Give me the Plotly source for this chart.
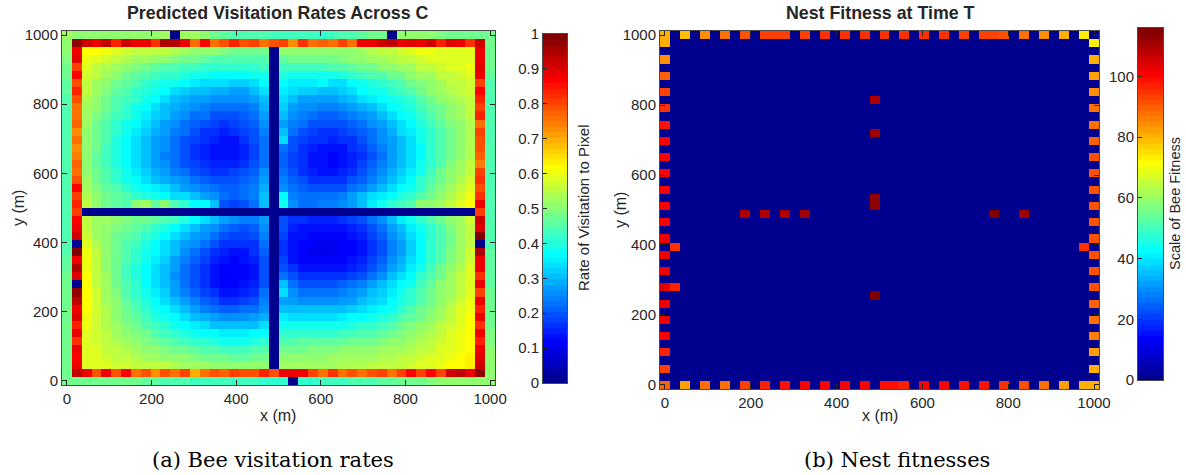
import numpy as np
import plotly.graph_objects as go

# ---------------------------------------------------------------------------
# Data
# ---------------------------------------------------------------------------
N_CELLS = 44                                   # grid cells along each side
grid_m = np.linspace(0, 1000, N_CELLS)         # cell centres in metres
axis_ticks = [0, 200, 400, 600, 800, 1000]

# Predicted visitation rate (percent of pixel visits), rows listed from the
# top of the field (y = 1000 m) down to the bottom (y = 0 m).
visit_pct = [
    [52,51,51,50,50,50,50,50,50,51,52,0,52,52,50,47,46,45,44,44,44,43,43,43,43,43,42,43,44,45,46,47,48,0,50,51,51,50,49,48,48,48,47,48],
    [50,97,92,88,93,83,91,88,88,82,94,94,88,75,86,75,79,83,79,80,76,79,80,73,82,75,78,75,80,75,88,88,92,93,89,90,88,91,83,90,88,82,92,48],
    [50,88,62,62,60,58,57,56,55,55,55,54,53,51,50,50,49,48,48,47,47,0,50,50,50,50,50,50,50,50,52,54,55,56,57,58,60,60,59,58,58,58,88,48],
    [49,90,60,59,57,55,54,53,52,51,50,49,48,47,46,45,45,45,45,45,45,0,46,47,47,47,48,48,49,50,51,52,53,54,55,56,57,58,58,58,58,58,88,48],
    [48,80,58,56,54,52,50,49,48,46,45,44,43,43,42,42,41,41,42,42,43,0,43,43,43,43,43,44,45,46,47,48,50,51,52,53,55,56,57,58,58,60,90,47],
    [47,87,57,55,52,50,48,46,45,43,42,41,40,39,38,37,36,36,37,38,39,0,40,39,38,38,38,39,40,41,43,44,45,47,48,50,52,53,55,56,57,58,88,46],
    [46,79,56,53,50,48,46,44,42,40,39,38,36,35,34,33,33,32,32,33,36,0,37,35,35,35,36,34,34,36,38,40,42,43,45,47,49,51,53,55,56,57,80,45],
    [46,83,55,52,49,46,44,42,40,38,36,34,32,31,30,29,29,28,28,30,33,0,35,33,32,32,31,31,32,34,36,38,39,41,43,45,47,50,52,54,55,57,86,45],
    [45,79,54,51,48,45,43,41,38,36,34,31,29,28,27,26,26,25,25,27,31,0,33,30,28,27,27,28,29,31,33,35,37,38,40,42,45,48,50,52,54,56,83,44],
    [45,75,53,50,47,44,42,39,37,34,31,29,27,25,24,23,22,22,23,24,29,0,32,28,26,25,24,24,25,27,29,31,33,36,38,40,43,46,48,51,53,55,80,44],
    [44,75,52,49,46,43,41,38,35,32,30,27,25,23,22,20,20,20,21,23,27,0,30,26,24,22,21,21,22,24,26,28,30,33,36,38,41,44,47,50,52,55,83,44],
    [44,78,52,48,45,42,39,36,33,30,28,25,23,21,19,18,17,18,19,21,25,0,28,24,22,20,19,19,20,21,23,25,28,31,34,36,40,43,46,49,51,54,75,44],
    [44,73,51,48,45,41,38,35,32,29,27,24,22,19,17,16,15,16,18,20,24,0,30,22,20,18,17,17,18,19,21,23,26,29,33,35,39,42,45,48,51,54,80,44],
    [44,75,50,47,44,40,37,34,31,28,26,23,20,18,16,15,14,14,16,19,23,0,33,20,18,17,16,15,16,17,19,22,25,28,31,34,38,41,45,48,51,54,79,44],
    [44,73,50,47,43,40,37,34,30,27,25,22,19,17,15,14,13,13,15,18,22,0,22,19,17,15,14,13,14,16,18,21,24,27,30,34,37,41,45,48,51,54,79,44],
    [44,74,50,46,43,40,37,34,30,27,24,22,19,17,15,14,13,13,15,18,22,0,21,18,16,14,13,12,13,15,17,20,23,27,30,34,37,41,45,48,51,54,78,44],
    [44,78,50,46,43,40,37,34,31,28,25,22,20,18,16,15,15,15,17,19,23,0,21,18,16,14,13,12,13,15,18,21,24,27,31,34,38,42,45,49,52,55,74,44],
    [44,75,51,47,44,41,38,35,32,29,27,24,22,20,18,17,17,18,19,21,25,0,22,19,17,15,14,14,15,17,19,22,25,29,32,35,39,43,47,50,53,56,80,44],
    [44,79,52,48,45,42,39,37,34,31,29,27,25,23,21,20,20,20,21,23,27,0,24,21,19,17,16,16,17,19,21,24,27,31,34,37,41,44,48,51,54,57,82,44],
    [44,87,53,49,46,44,41,39,37,35,33,31,28,26,24,22,21,21,22,24,29,0,26,23,21,20,19,19,20,22,24,27,30,33,36,39,42,46,49,52,55,58,79,44],
    [44,80,54,51,48,46,44,42,40,38,36,34,33,30,28,25,22,21,22,24,30,0,36,24,22,22,22,22,24,27,30,33,35,37,40,42,45,48,51,54,57,60,82,44],
    [44,83,55,50,47,46,45,50,53,46,50,44,42,37,37,30,20,18,20,22,30,0,38,25,23,23,24,24,25,28,31,35,38,42,43,45,50,50,52,55,58,62,88,45],
    [44,80,0,0,0,0,0,0,0,0,0,0,0,0,0,0,0,0,0,0,0,0,0,0,0,0,0,0,0,0,0,0,0,0,0,0,0,0,0,0,0,0,80,45],
    [44,87,55,53,52,50,49,48,47,46,45,43,40,37,34,30,27,25,24,24,28,0,20,17,16,15,15,15,16,18,20,23,26,30,35,39,42,45,47,50,53,57,92,45],
    [44,88,56,53,51,49,47,46,44,42,40,37,34,31,28,25,23,21,20,21,26,0,20,15,14,13,13,13,14,15,17,20,23,27,31,35,39,42,45,49,52,56,90,45],
    [44,92,57,53,50,48,46,44,42,40,37,34,31,28,25,22,20,18,18,19,24,0,18,14,13,12,11,11,12,13,15,18,21,25,29,33,37,41,45,48,52,56,99,45],
    [45,0,58,54,50,47,45,43,40,37,34,31,28,25,22,19,17,16,16,17,22,0,17,13,12,11,10,10,11,12,14,17,20,24,28,32,36,41,45,48,52,56,0,45],
    [45,100,60,55,51,47,44,42,39,36,33,30,26,23,20,17,15,14,14,16,21,0,17,13,11,10,10,10,11,12,14,17,20,24,28,32,36,41,45,49,52,57,94,46],
    [46,88,60,55,51,47,44,41,38,35,32,28,24,21,18,15,13,12,13,15,20,0,18,14,12,11,11,11,12,13,15,18,21,25,29,33,37,41,45,49,53,57,88,46],
    [46,94,60,55,51,47,43,40,37,34,31,27,23,20,17,14,12,11,12,14,19,0,19,16,14,13,13,13,14,15,17,20,23,27,31,35,39,43,47,50,54,58,89,46],
    [47,90,61,56,52,47,43,40,37,34,30,26,22,19,16,13,12,11,12,14,19,0,22,19,17,16,16,16,17,18,20,23,26,30,34,37,41,45,48,52,55,58,82,46],
    [48,0,62,56,52,48,44,41,37,34,31,27,23,19,16,14,12,12,13,15,20,0,30,22,20,20,19,20,21,22,24,27,30,33,36,39,43,46,50,53,56,59,88,46],
    [48,98,62,57,53,49,45,42,38,35,32,28,24,21,18,16,14,14,15,17,22,0,33,25,23,23,22,23,24,25,27,30,32,35,38,41,44,47,50,53,56,59,80,47],
    [48,93,61,57,53,50,46,43,40,37,34,30,27,24,21,19,17,17,18,20,24,0,28,27,26,26,26,26,27,28,30,32,34,37,40,42,45,48,51,54,57,60,88,47],
    [48,88,61,57,54,51,47,44,41,38,36,33,30,27,24,22,21,21,22,23,26,0,31,30,30,30,30,30,31,32,33,35,37,39,42,44,47,49,52,55,58,60,83,47],
    [48,90,60,57,54,51,48,46,43,40,38,36,33,31,29,27,25,25,26,27,29,0,35,34,34,34,34,34,35,36,37,38,40,42,44,46,48,51,53,56,58,61,89,48],
    [48,83,60,57,54,52,49,47,45,43,41,39,37,35,33,31,30,30,30,31,33,0,38,38,38,38,38,38,39,40,41,42,43,45,47,49,50,52,55,57,59,61,82,48],
    [47,88,59,57,55,53,51,49,47,45,43,42,40,39,37,36,35,35,35,36,37,0,42,42,42,42,42,42,43,43,44,45,46,47,49,50,52,54,56,58,60,62,88,49],
    [47,82,59,57,55,54,52,50,49,47,46,45,43,42,41,40,39,39,39,40,41,0,45,45,46,46,46,46,46,47,47,48,49,50,51,52,54,55,57,59,60,62,83,49],
    [47,88,59,58,56,55,54,52,51,50,49,48,47,46,45,44,43,43,43,44,45,0,48,48,48,49,49,49,50,50,50,51,52,52,53,54,55,56,58,59,60,62,88,50],
    [47,87,59,58,57,56,55,54,53,52,51,50,50,49,48,47,47,46,46,47,48,0,50,51,51,51,51,52,52,52,53,53,54,54,55,56,57,58,59,60,61,63,90,50],
    [47,88,58,58,58,57,57,56,56,55,55,54,53,52,52,51,51,50,50,50,51,0,52,52,53,53,53,53,54,54,54,55,55,56,56,57,58,59,60,61,62,64,92,51],
    [47,93,88,79,88,79,86,75,79,72,79,75,80,70,75,79,78,80,79,79,83,79,88,88,88,80,75,82,75,79,75,79,80,75,80,86,80,86,80,91,93,88,97,51],
    [47,47,48,48,48,48,47,47,46,46,45,44,44,43,43,43,43,43,43,43,42,42,42,0,42,42,43,43,43,44,44,45,46,46,47,48,48,49,50,50,51,51,51,51],
]

# Nest fitness along the field edges (0 where there is no nest).
fit_top = [80,0,78,0,84,0,88,0,91,0,94,94,94,0,93,0,95,0,95,0,95,0,95,0,95,0,96,0,95,0,94,0,94,93,92,0,88,0,85,0,80,0,74,0]
fit_bottom = [90,0,82,0,87,0,88,0,94,0,97,0,99,0,100,0,100,0,100,0,100,0,98,98,97,0,100,0,100,0,99,0,98,0,96,0,92,0,88,0,83,0,80,80]
fit_left = [90,0,94,0,97,0,101,0,102,0,103,0,105,0,103,0,103,0,103,0,101,0,101,0,101,0,101,0,101,0,100,0,98,0,95,0,94,0,90,0,85,0,80,80]
fit_right = [80,0,81,0,83,0,86,0,88,0,90,0,92,0,92,0,92,0,92,0,92,0,92,0,92,0,92,0,92,0,90,0,88,0,87,0,85,0,83,0,80,0,74,0]
# Remaining nests: grid column, grid row (from the bottom) and fitness.
nest_col = [1, 1, 42, 21, 21, 21, 21, 21, 8, 10, 12, 14, 33, 36]
nest_row = [17, 12, 17, 35, 31, 23, 22, 11, 21, 21, 21, 21, 21, 21]
nest_fit = [95, 97, 95, 110, 111, 113, 113, 116, 110, 110, 110, 112, 115, 111]
FIT_MAX = 116

visit_ticks = [0, 0.1, 0.2, 0.3, 0.4, 0.5, 0.6, 0.7, 0.8, 0.9, 1]
visit_ticktext = ["0", "0.1", "0.2", "0.3", "0.4", "0.5", "0.6", "0.7", "0.8", "0.9", "1"]
fit_ticks = [0, 20, 40, 60, 80, 100]

# ---------------------------------------------------------------------------
# Matrices
# ---------------------------------------------------------------------------
visit_z = (np.array(visit_pct[::-1], dtype=float) / 100.0)   # row 0 = y 0 m

fit_z = np.zeros((N_CELLS, N_CELLS))
fit_z[:, 0] = fit_left
fit_z[:, -1] = fit_right
fit_z[-1, :] = fit_top
fit_z[0, :] = fit_bottom
for c, r, v in zip(nest_col, nest_row, nest_fit):
    fit_z[r, c] = v


# ---------------------------------------------------------------------------
# 64-level jet colour map, used as a stepped colour scale
# ---------------------------------------------------------------------------
def jet_colors(m=64):
    n = int(np.ceil(m / 4))
    u = np.concatenate([np.arange(1, n + 1) / n, np.ones(n - 1), np.arange(n, 0, -1) / n])
    g = int(np.ceil(n / 2)) - (1 if m % 4 == 1 else 0) + np.arange(1, len(u) + 1)
    r = g + n
    b = g - n
    cmap = np.zeros((m, 3))
    for k in range(len(u)):
        if 1 <= r[k] <= m:
            cmap[r[k] - 1, 0] = u[k]
        if 1 <= g[k] <= m:
            cmap[g[k] - 1, 1] = u[k]
        if 1 <= b[k] <= m:
            cmap[b[k] - 1, 2] = u[k]
    return cmap


N_LEVELS = 64
jet = jet_colors(N_LEVELS)
jet_scale = []
for i, c in enumerate(jet):
    col = "rgb(%d,%d,%d)" % tuple(int(round(v * 255)) for v in c)
    jet_scale.append([i / N_LEVELS, col])
    jet_scale.append([(i + 1) / N_LEVELS, col])

# ---------------------------------------------------------------------------
# Page geometry (pixels of the 1186 x 475 page)
# ---------------------------------------------------------------------------
W, H = 1186, 475


def dom_x(a, b):
    return [a / W, b / W]


def dom_y(top, bottom):
    return [1 - bottom / H, 1 - top / H]


def px(x, y):
    return x / W, 1 - y / H


TEXT = "#262626"
LINE = "#4a4a4a"
SANS = "Liberation Sans, Arial, Helvetica, sans-serif"
SERIF = "DejaVu Serif, serif"
half = 500 / (N_CELLS - 1)
xy_range = [-half, 1000 + half]

fig = go.Figure()

fig.add_trace(go.Heatmap(
    x=grid_m, y=grid_m, z=visit_z, zmin=0, zmax=1, colorscale=jet_scale,
    showscale=False, hoverinfo="skip", xaxis="x", yaxis="y"))

lvl_visit = (np.arange(N_LEVELS) + 0.5) / N_LEVELS
fig.add_trace(go.Heatmap(
    x=[0], y=lvl_visit, z=[[v] for v in lvl_visit], zmin=0, zmax=1,
    colorscale=jet_scale, showscale=False, hoverinfo="skip", xaxis="x2", yaxis="y2"))

fig.add_trace(go.Heatmap(
    x=grid_m, y=grid_m, z=fit_z, zmin=0, zmax=FIT_MAX, colorscale=jet_scale,
    showscale=False, hoverinfo="skip", xaxis="x3", yaxis="y3"))

lvl_fit = (np.arange(N_LEVELS) + 0.5) / N_LEVELS * FIT_MAX
fig.add_trace(go.Heatmap(
    x=[0], y=lvl_fit, z=[[v] for v in lvl_fit], zmin=0, zmax=FIT_MAX,
    colorscale=jet_scale, showscale=False, hoverinfo="skip", xaxis="x4", yaxis="y4"))

tickfont = dict(family=SANS, size=15, color=TEXT)
box_axis = dict(showline=True, linecolor=LINE, linewidth=1, mirror="allticks",
                ticks="inside", ticklen=5, tickwidth=1, tickcolor=TEXT,
                showgrid=False, zeroline=False, tickfont=tickfont, automargin=False)

map_axis = dict(box_axis, range=xy_range, tickvals=axis_ticks, autorange=False)
bar_x = dict(range=[-0.5, 0.5], showticklabels=False, ticks="", showline=True,
             mirror=True, linecolor=LINE, showgrid=False, zeroline=False, automargin=False)

fig.update_layout(
    template="none",
    width=W, height=H, margin=dict(l=0, r=0, t=0, b=0, pad=0, autoexpand=False),
    paper_bgcolor="white", plot_bgcolor="white", showlegend=False,
    xaxis=dict(map_axis, domain=dom_x(62, 495), anchor="y"),
    yaxis=dict(map_axis, domain=dom_y(31, 385), anchor="x"),
    xaxis2=dict(bar_x, domain=dom_x(543, 567), anchor="y2"),
    yaxis2=dict(box_axis, domain=dom_y(34, 383), anchor="x2", range=[0, 1],
                tickvals=visit_ticks, ticktext=visit_ticktext, side="left",
                mirror=True, ticklen=4),
    xaxis3=dict(map_axis, domain=dom_x(660, 1099), anchor="y3"),
    yaxis3=dict(map_axis, domain=dom_y(31, 389), anchor="x3"),
    xaxis4=dict(bar_x, domain=dom_x(1138, 1163), anchor="y4"),
    yaxis4=dict(box_axis, domain=dom_y(28, 380), anchor="x4", range=[0, FIT_MAX],
                tickvals=fit_ticks, side="left", mirror=True, ticklen=4),
)


def label(text, x, y, size, angle=0, family=SANS, bold=False):
    ax, ay = px(x, y)
    fig.add_annotation(
        text=f"<b>{text}</b>" if bold else text, x=ax, y=ay, xref="paper", yref="paper",
        showarrow=False, textangle=angle, xanchor="center", yanchor="middle",
        font=dict(family=family, size=size, color=TEXT if family == SANS else "black"))


label("Predicted Visitation Rates Across C", 278, 13, 17.8, bold=True)
label("Nest Fitness at Time T", 880, 13, 17.8, bold=True)
label("x (m)", 278, 415, 16)
label("x (m)", 880, 415, 16)
label("y (m)", 18, 208, 16, angle=-90)
label("y (m)", 620, 210, 16, angle=-90)
label("Rate of Visitation to Pixel", 583, 208, 15, angle=-90)
label("Scale of Bee Fitness", 1175, 204, 14.5, angle=-90)
label("(a) Bee visitation rates", 273, 460, 21, family=SERIF)
label("(b) Nest fitnesses", 897, 460, 21, family=SERIF)

fig.write_html("out.html")
